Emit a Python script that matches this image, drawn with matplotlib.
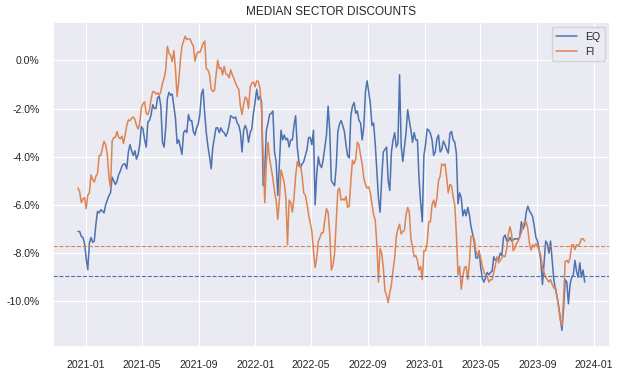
import numpy as np
import pandas as pd
import matplotlib
matplotlib.use("Agg")
import matplotlib.pyplot as plt
import matplotlib.dates as mdates
from matplotlib.ticker import FuncFormatter
import seaborn as sns

eq = [-7.10, -7.10, -7.30, -7.35, -7.60, -8.20, -8.69, -7.58, -7.35, -7.55,
      -7.50, -6.80, -6.27, -6.33, -6.20, -6.25, -6.33, -6.00, -5.80, -5.62,
      -5.50, -4.85, -5.00, -5.15, -5.02, -4.75, -4.60, -4.40, -4.30, -4.30,
      -4.50, -3.80, -3.50, -3.75, -3.95, -3.75, -4.10, -3.90, -3.50, -2.74,
      -2.85, -3.30, -3.60, -2.55, -2.50, -2.25, -1.84, -2.00, -2.00, -1.55,
      -1.49, -1.90, -3.40, -3.60, -2.80, -1.60, -1.33, -1.45, -1.40, -1.90,
      -2.40, -3.45, -3.30, -3.60, -3.90, -3.00, -2.90, -3.00, -2.25, -2.50,
      -2.50, -2.95, -3.10, -2.80, -2.65, -2.25, -1.40, -1.20, -2.20, -3.00,
      -3.57, -4.00, -4.50, -3.60, -3.20, -2.80, -2.80, -3.00, -2.80, -2.95,
      -3.00, -3.15, -3.00, -2.70, -2.30, -2.35, -2.40, -2.35, -2.60, -2.70,
      -3.00, -3.80, -2.90, -2.70, -2.90, -3.40, -3.00, -2.85, -2.20, -1.75,
      -1.20, -1.64, -1.50, -1.70, -5.20, -4.50, -2.90, -2.60, -2.25, -2.20,
      -2.10, -3.80, -4.20, -5.60, -4.30, -2.90, -3.30, -3.10, -3.30, -3.23,
      -3.60, -3.30, -3.30, -2.70, -2.30, -3.60, -4.20, -4.45, -4.30, -4.20,
      -3.95, -3.70, -3.20, -3.20, -3.50, -2.90, -6.00, -4.70, -4.00, -4.35,
      -4.45, -4.10, -3.60, -3.10, -1.90, -2.90, -5.00, -5.10, -5.20, -4.40,
      -2.96, -2.65, -2.50, -2.70, -2.95, -3.50, -3.95, -4.05, -2.30, -1.90,
      -1.75, -2.20, -2.10, -2.50, -2.60, -3.30, -2.75, -1.30, -0.85, -1.30,
      -1.80, -2.70, -2.60, -3.44, -4.60, -5.70, -6.30, -4.90, -3.80, -3.70,
      -3.60, -5.00, -5.40, -3.80, -3.30, -3.00, -3.60, -3.44, -0.60, -3.55,
      -4.20, -3.60, -3.00, -2.05, -2.50, -2.90, -3.40, -3.00, -3.30, -3.30,
      -4.90, -5.90, -6.70, -3.95, -3.50, -2.85, -2.90, -3.03, -3.30, -3.95,
      -3.80, -3.25, -3.10, -3.80, -3.70, -3.35, -3.50, -3.70, -3.85, -3.03,
      -2.95, -3.30, -3.40, -3.86, -5.95, -5.50, -5.70, -6.45, -6.20, -6.45,
      -6.10, -6.40, -6.90, -7.20, -7.55, -8.20, -8.20, -7.90, -8.60, -9.05,
      -9.20, -9.00, -8.80, -8.90, -8.80, -8.75, -8.15, -8.30, -8.25, -8.25,
      -8.00, -8.10, -7.35, -7.25, -7.50, -7.50, -7.35, -7.50, -7.45, -7.40,
      -7.40, -7.43, -7.32, -6.70, -7.00, -6.85, -6.30, -6.05, -6.25, -6.35,
      -6.50, -6.90, -7.35, -7.50, -7.90, -8.30, -9.30, -8.40, -7.50, -7.60,
      -8.00, -7.50, -8.30, -9.10, -9.50, -9.80, -10.20, -10.70, -11.20, -10.30,
      -9.10, -9.20, -10.10, -9.30, -9.00, -8.90, -8.30, -8.75, -9.00, -8.40,
      -9.00, -8.70, -9.20]

fi = [-5.30, -5.45, -5.90, -5.75, -5.70, -6.15, -5.60, -5.50, -4.75, -4.95,
      -5.05, -4.81, -4.70, -3.95, -3.95, -3.65, -3.36, -3.50, -3.90, -4.80,
      -5.30, -3.35, -3.20, -3.20, -2.95, -3.20, -3.25, -3.15, -3.45, -3.10,
      -2.70, -2.47, -2.50, -2.40, -2.35, -2.45, -2.70, -2.85, -2.60, -1.98,
      -1.80, -1.72, -2.20, -2.25, -2.05, -1.60, -1.30, -1.30, -1.40, -1.35,
      -1.45, -1.30, -0.95, -0.75, -0.40, 0.58, 0.30, 0.20, -0.05, 0.40,
      -0.35, -1.50, -0.90, 0.00, 0.58, 0.80, 1.00, 0.86, 0.90, 0.88,
      0.72, 0.60, -0.04, 0.25, 0.35, 0.32, 0.50, 0.70, 0.80, -0.35,
      -0.40, -0.60, -1.20, -1.29, -1.25, -0.60, 0.00, -0.35, -0.30, -0.60,
      -0.25, -0.55, -0.60, -0.72, -0.40, -0.60, -0.75, -0.95, -1.10, -1.20,
      -1.90, -2.25, -1.80, -1.52, -1.60, -2.00, -1.10, -0.95, -0.90, -1.10,
      -0.85, -0.88, -1.15, -2.00, -3.90, -5.90, -4.20, -3.40, -4.10, -4.50,
      -4.90, -5.45, -5.80, -6.60, -5.80, -4.55, -4.80, -5.10, -5.70, -7.65,
      -5.80, -5.90, -6.30, -5.70, -4.80, -4.20, -4.40, -4.35, -4.80, -5.50,
      -5.60, -5.95, -6.40, -6.75, -7.10, -7.90, -8.60, -8.20, -7.50, -7.35,
      -7.15, -7.15, -6.60, -6.15, -6.30, -7.20, -8.70, -8.50, -8.00, -6.70,
      -5.40, -5.30, -5.80, -5.75, -5.80, -5.65, -6.10, -6.05, -5.00, -4.15,
      -4.30, -4.10, -3.40, -3.50, -3.95, -4.30, -4.90, -5.15, -5.30, -5.25,
      -5.50, -5.95, -6.40, -6.62, -7.60, -9.20, -7.80, -8.00, -8.60, -9.55,
      -9.75, -10.05, -9.65, -9.30, -8.70, -8.20, -7.30, -7.00, -6.80, -7.20,
      -7.10, -7.05, -6.40, -6.10, -6.30, -7.40, -7.75, -8.15, -8.10, -8.30,
      -8.70, -8.55, -9.10, -7.90, -7.90, -7.55, -6.70, -6.70, -6.00, -5.80,
      -6.10, -5.70, -5.00, -4.80, -4.30, -4.35, -4.30, -4.85, -5.50, -5.15,
      -5.20, -5.66, -6.00, -7.20, -8.90, -8.55, -9.50, -8.95, -8.60, -8.55,
      -9.10, -8.40, -7.30, -7.30, -7.40, -7.90, -8.10, -7.95, -8.20, -8.55,
      -8.80, -8.90, -8.97, -9.20, -9.10, -9.10, -8.80, -8.50, -8.15, -8.40,
      -8.30, -8.20, -8.10, -8.15, -7.80, -7.20, -6.90, -7.20, -7.90, -7.80,
      -7.60, -7.50, -7.32, -7.15, -6.85, -6.70, -6.70, -7.00, -7.60, -7.87,
      -7.65, -7.75, -7.60, -7.73, -7.90, -8.10, -8.60, -8.80, -9.00, -9.10,
      -9.20, -9.10, -9.30, -9.45, -9.40, -9.80, -10.30, -10.78, -11.00, -9.90,
      -8.35, -8.30, -8.40, -8.20, -7.66, -7.65, -7.85, -7.65, -7.70, -7.60,
      -7.40, -7.40, -7.50]

eq_ref = -8.96
fi_ref = -7.69

dates = pd.date_range("2020-12-15", periods=len(eq), freq="84h")

sns.set_theme(style="darkgrid")
plt.rcParams["font.family"] = ["Liberation Sans", "DejaVu Sans"]

fig = plt.figure(figsize=(6.22, 3.74), dpi=100)
ax = fig.add_axes([52.7 / 622, 27.3 / 374, 557.3 / 622, 324.7 / 374])

ax.plot(dates, eq, color="#4c72b0", lw=1.1, label="EQ")
ax.plot(dates, fi, color="#dd8452", lw=1.1, label="FI")
ax.axhline(eq_ref, color="#4c72b0", ls="--", lw=0.8)
ax.axhline(fi_ref, color="#dd8452", ls="--", lw=0.8)

ax.set_ylim(-11.88, 1.59)
ax.set_yticks([0, -2, -4, -6, -8, -10])
ax.yaxis.set_major_formatter(FuncFormatter(lambda v, p: "{:.1f}%".format(v)))
ax.xaxis.set_major_locator(mdates.MonthLocator(bymonth=[1, 5, 9]))
ax.xaxis.set_major_formatter(mdates.DateFormatter("%Y-%m"))
ax.tick_params(labelsize=7.6)
ax.grid(lw=0.8)

ax.set_title("MEDIAN SECTOR DISCOUNTS", fontsize=8.5, pad=5)
ax.legend(loc="upper right", fontsize=7.6)

fig.savefig("out.png", dpi=100)
